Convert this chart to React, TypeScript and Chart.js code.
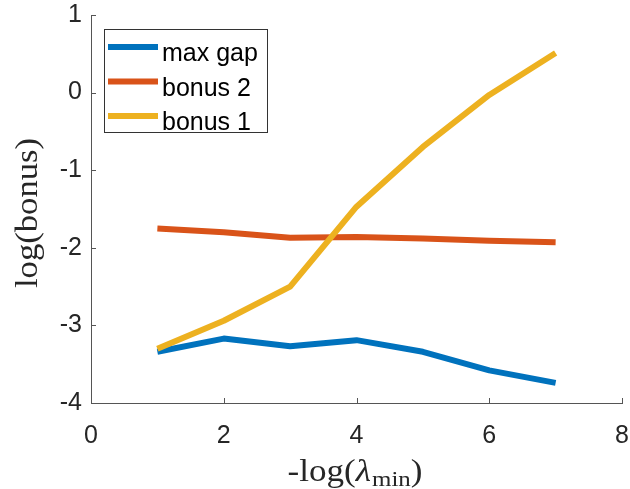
import React, { useEffect, useRef } from 'react';
import { Chart, registerables } from 'chart.js';

Chart.register(...registerables);

const xValues = [1, 2, 3, 4, 5, 6, 7];
const maxGap = [-3.34, -3.17, -3.27, -3.19, -3.34, -3.58, -3.74];
const bonus2 = [-1.75, -1.8, -1.87, -1.86, -1.88, -1.91, -1.93];
const bonus1 = [-3.3, -2.94, -2.5, -1.47, -0.7, -0.03, 0.51];
const seriesLabels = ['max gap', 'bonus 2', 'bonus 1'];
const seriesColors = ['#0072BD', '#D95319', '#EDB120'];
const xTickValues = [0, 2, 4, 6, 8];
const yTickValues = [-4, -3, -2, -1, 0, 1];

const SANS = '"Liberation Sans", Arial, sans-serif';
const SERIF = '"Liberation Serif", "Times New Roman", serif';

const decorPlugin = {
  id: 'decor',
  afterDraw(chart: any) {
    const ctx = chart.ctx as CanvasRenderingContext2D;
    const area = chart.chartArea;
    const xs = chart.scales.x;
    const ys = chart.scales.y;
    ctx.save();
    // inward ticks
    ctx.strokeStyle = '#555';
    ctx.lineWidth = 1;
    ctx.beginPath();
    xTickValues.forEach((v) => {
      const px = Math.round(xs.getPixelForValue(v)) + 0.5;
      ctx.moveTo(px, area.bottom);
      ctx.lineTo(px, area.bottom - 5);
    });
    yTickValues.forEach((v) => {
      const py = Math.round(ys.getPixelForValue(v)) + 0.5;
      ctx.moveTo(area.left, py);
      ctx.lineTo(area.left + 5, py);
    });
    ctx.stroke();

    // legend
    const bx = area.left + 13;
    const by = area.top + 14;
    const bw = 163;
    const bh = 103;
    ctx.fillStyle = '#fff';
    ctx.fillRect(bx, by, bw, bh);
    ctx.strokeStyle = '#333';
    ctx.lineWidth = 1;
    ctx.strokeRect(bx + 0.5, by + 0.5, bw, bh);
    ctx.font = `25px ${SANS}`;
    ctx.textBaseline = 'alphabetic';
    ctx.textAlign = 'left';
    chart.data.datasets.forEach((ds: any, i: number) => {
      const ry = by + 18 + i * 34.5;
      ctx.strokeStyle = ds.borderColor;
      ctx.lineWidth = 6;
      ctx.beginPath();
      ctx.moveTo(bx + 4, ry);
      ctx.lineTo(bx + 54, ry);
      ctx.stroke();
      ctx.fillStyle = '#000';
      ctx.fillText(ds.label, bx + 58, ry + 14);
    });

    // y title
    ctx.fillStyle = '#262626';
    ctx.font = `31px ${SERIF}`;
    const yt = 'log(bonus)';
    const yw = ctx.measureText(yt).width;
    ctx.save();
    ctx.translate(29, 213);
    ctx.rotate(-Math.PI / 2);
    ctx.scale(150 / yw, 1);
    ctx.textAlign = 'center';
    ctx.textBaseline = 'middle';
    ctx.fillText(yt, 0, 0);
    ctx.restore();

    // x title with subscript
    const partA = '-log(';
    const partL = 'λ';
    const partS = 'min';
    const partC = ')';
    const fMain = `31px ${SERIF}`;
    const fIt = `italic 31px ${SERIF}`;
    const fSub = `22px ${SERIF}`;
    ctx.font = fMain;
    const wA = ctx.measureText(partA).width;
    const wC = ctx.measureText(partC).width;
    ctx.font = fIt;
    const wL = ctx.measureText(partL).width;
    ctx.font = fSub;
    const wS = ctx.measureText(partS).width;
    const total = wA + wL + wS + wC + 1;
    const sc = 135 / total;
    ctx.save();
    ctx.translate(355 - 135 / 2, 481);
    ctx.scale(sc, 1);
    ctx.textAlign = 'left';
    ctx.textBaseline = 'alphabetic';
    let cx = 0;
    ctx.font = fMain;
    ctx.fillText(partA, cx, 0);
    cx += wA;
    ctx.font = fIt;
    ctx.fillText(partL, cx, 0);
    cx += wL + 1;
    ctx.font = fSub;
    ctx.fillText(partS, cx, 5);
    cx += wS;
    ctx.font = fMain;
    ctx.fillText(partC, cx, 0);
    ctx.restore();

    ctx.restore();
  },
};

export default function App() {
  const ref = useRef<HTMLCanvasElement | null>(null);
  useEffect(() => {
    document.body.style.margin = '0';
    const canvas = ref.current;
    if (!canvas) return;
    const mk = (vals: number[]) => xValues.map((x, i) => ({ x, y: vals[i] }));
    const all = [maxGap, bonus2, bonus1];
    const chart = new Chart(canvas, {
      type: 'line',
      data: {
        datasets: all.map((vals, i) => ({
          label: seriesLabels[i],
          data: mk(vals),
          borderColor: seriesColors[i],
          backgroundColor: seriesColors[i],
          borderWidth: 6,
          pointRadius: 0,
          pointHoverRadius: 0,
          tension: 0,
          fill: false,
          order: 3 - i,
          borderCapStyle: 'butt',
          borderJoinStyle: 'round',
        })),
      },
      options: {
        animation: false,
        responsive: true,
        maintainAspectRatio: false,
        layout: { padding: { top: 15, right: 8, left: 0, bottom: 0 } },
        plugins: {
          legend: { display: false },
          tooltip: { enabled: false },
          title: { display: false },
        },
        scales: {
          x: {
            type: 'linear',
            min: 0,
            max: 8,
            afterFit: (s: any) => {
              s.height = 86;
              s.paddingLeft = 0;
              s.paddingRight = 0;
            },
            afterBuildTicks: (s: any) => {
              s.ticks = xTickValues.map((v) => ({ value: v }));
            },
            ticks: {
              color: '#262626',
              font: { family: SANS, size: 25 },
              padding: 18,
              maxRotation: 0,
            },
            grid: { display: false, drawTicks: false },
            border: { display: true, color: '#555', width: 1 },
          },
          y: {
            type: 'linear',
            min: -4,
            max: 1,
            afterFit: (s: any) => {
              s.width = 91;
              s.paddingTop = 0;
              s.paddingBottom = 0;
            },
            afterBuildTicks: (s: any) => {
              s.ticks = yTickValues.map((v) => ({ value: v }));
            },
            ticks: {
              color: '#262626',
              font: { family: SANS, size: 25 },
              padding: 9,
            },
            grid: { display: false, drawTicks: false },
            border: { display: true, color: '#555', width: 1 },
          },
        },
      },
      plugins: [decorPlugin],
    });
    return () => chart.destroy();
  }, []);
  return (
    <div style={{ width: 630, height: 489, position: 'relative' }}>
      <canvas ref={ref} />
    </div>
  );
}
